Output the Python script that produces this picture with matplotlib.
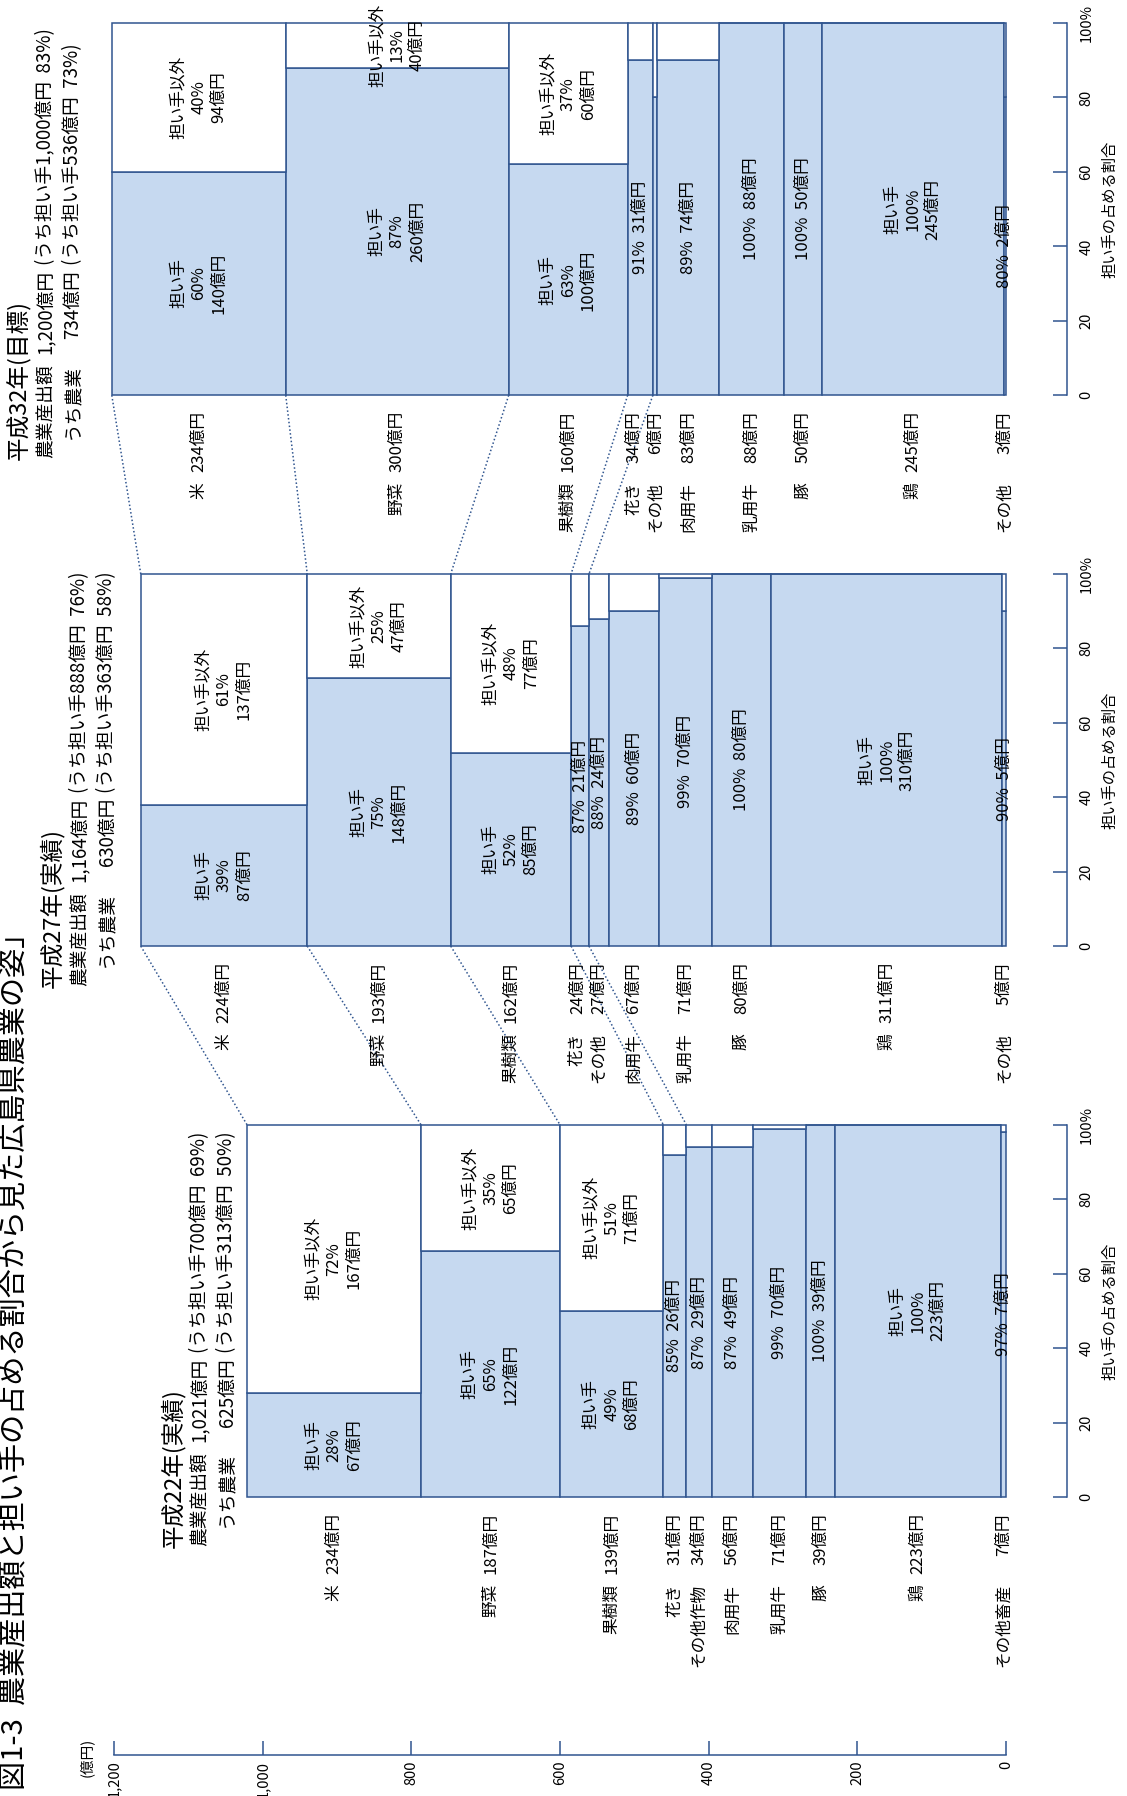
import numpy as np
import matplotlib
matplotlib.use('Agg')
import matplotlib.pyplot as plt

plt.rcParams['font.family'] = ['Noto Sans CJK JP', 'DejaVu Sans']

# ---- data ----
title = '図1-3  農業産出額と担い手の占める割合から見た広島県農業の姿」'

# 平成22年 (実績)
cats22 = ['米', '野菜', '果樹類', '花き', 'その他作物', '肉用牛', '乳用牛', '豚', '鶏', 'その他畜産']
val22 = [234, 187, 139, 31, 34, 56, 71, 39, 223, 7]
fill22 = [28, 66, 50, 92, 94, 94, 99, 100, 100, 98]     # drawn height of blue part
pct22 = [28, 65, 49, 85, 87, 87, 99, 100, 100, 97]      # printed share
amt22 = [67, 122, 68, 26, 29, 49, 70, 39, 223, 7]
opct22 = [72, 35, 51]
oamt22 = [167, 65, 71]
head22 = ['平成22年(実績)',
          ('農業産出額', '1,021億円', '(うち担い手700億円  69%)'),
          ('うち農業', '625億円', '(うち担い手313億円  50%)')]

# 平成27年 (実績)
cats27 = ['米', '野菜', '果樹類', '花き', 'その他', '肉用牛', '乳用牛', '豚', '鶏', 'その他']
val27 = [224, 193, 162, 24, 27, 67, 71, 80, 311, 5]
fill27 = [38, 72, 52, 86, 88, 90, 99, 100, 100, 90]
pct27 = [39, 75, 52, 87, 88, 89, 99, 100, 100, 90]
amt27 = [87, 148, 85, 21, 24, 60, 70, 80, 310, 5]
opct27 = [61, 25, 48]
oamt27 = [137, 47, 77]
head27 = ['平成27年(実績)',
          ('農業産出額', '1,164億円', '(うち担い手888億円  76%)'),
          ('うち農業', '630億円', '(うち担い手363億円  58%)')]

# 平成32年 (目標)
cats32 = ['米', '野菜', '果樹類', '花き', 'その他', '肉用牛', '乳用牛', '豚', '鶏', 'その他']
val32 = [234, 300, 160, 34, 6, 83, 88, 50, 245, 3]
fill32 = [60, 88, 62, 90, 80, 90, 100, 100, 100, 80]
pct32 = [60, 87, 63, 91, None, 89, 100, 100, 100, 80]
amt32 = [140, 260, 100, 31, None, 74, 88, 50, 245, 2]
opct32 = [40, 13, 37]
oamt32 = [94, 40, 60]
head32 = ['平成32年(目標)',
          ('農業産出額', '1,200億円', '(うち担い手1,000億円  83%)'),
          ('うち農業', '734億円', '(うち担い手536億円  73%)')]

oku_ticks = [1200, 1000, 800, 600, 400, 200, 0]
oku_labels = ['1,200', '1,000', '800', '600', '400', '200', '0']
pct_ticks = [0, 20, 40, 60, 80, 100]
pct_labels = ['0', '20', '40', '60', '80', '100%']

panels = [
    (cats22, val22, fill22, pct22, amt22, opct22, oamt22, head22),
    (cats27, val27, fill27, pct27, amt27, opct27, oamt27, head27),
    (cats32, val32, fill32, pct32, amt32, opct32, oamt32, head32),
]

# ---- layout ----
W, H = 1127, 1796
blue = '#c6d9f0'
edge = '#30558f'
gap = 148            # panel spacing in % units
pxu = 1474 / 396     # pixels per % unit

fig = plt.figure(figsize=(W / 100, H / 100), dpi=100)
fig.patch.set_facecolor('white')

ax = fig.add_axes([114 / W, 1 - 1497 / H, 892 / W, 1474 / H])
ax.set_xlim(1200, 0)
ax.set_ylim(0, 396)
ax.patch.set_alpha(0)
for s in ['top', 'left', 'right']:
    ax.spines[s].set_visible(False)
ax.spines['bottom'].set_position(('outward', 258 * 0.72))
ax.spines['bottom'].set_color(edge)
ax.spines['bottom'].set_linewidth(1.1)
ax.set_yticks([])
ax.set_xticks(oku_ticks)
ax.set_xticklabels(oku_labels, rotation=90)
ax.tick_params(axis='x', direction='in', length=10, width=1.1, color=edge,
               labelsize=10.5, pad=4)

starts_all = []
for p, (cats, vals, fill, pct, amt, opct, oamt, head) in enumerate(panels):
    base = p * gap
    vals = np.array(vals)
    fill = np.array(fill)
    total = vals.sum()
    starts = total - np.cumsum(vals)
    starts_all.append((starts, vals, base))

    ax.bar(starts, fill, width=vals, bottom=base, align='edge', color=blue,
           edgecolor=edge, linewidth=1.1, clip_on=False)
    ax.bar(starts, 100 - fill, width=vals, bottom=base + fill, align='edge',
           color='white', edgecolor=edge, linewidth=1.1, clip_on=False)

    centers = starts + vals / 2
    for i in range(len(vals)):
        if pct[i] is None:
            continue
        c = centers[i]
        if i < 3:
            ax.text(c, base + fill[i] / 2, f'担い手\n{pct[i]}%\n{amt[i]}億円',
                    rotation=90, ha='center', va='center', fontsize=12,
                    linespacing=1.25, multialignment='center')
            ax.text(c, base + fill[i] + (100 - fill[i]) / 2,
                    f'担い手以外\n{opct[i]}%\n{oamt[i]}億円',
                    rotation=90, ha='center', va='center', fontsize=12,
                    linespacing=1.25, multialignment='center', clip_on=False)
        elif cats[i] == '鶏':
            ax.text(c, base + fill[i] / 2, f'担い手\n{pct[i]}%\n{amt[i]}億円',
                    rotation=90, ha='center', va='center', fontsize=12,
                    linespacing=1.25, multialignment='center')
        else:
            ax.text(c, base + fill[i] / 2, f'{pct[i]}%  {amt[i]}億円',
                    rotation=90, ha='center', va='center', fontsize=12)

    # category labels under each panel (keep neighbours apart)
    lab_x = centers.copy()
    for i in range(len(lab_x) - 1):
        if lab_x[i] - lab_x[i + 1] < 29:
            lab_x[i] = lab_x[i + 1] + 29
    for i in range(len(vals)):
        ax.text(lab_x[i], base - 16 / pxu, f'{vals[i]}億円', rotation=90,
                rotation_mode='anchor', ha='right', va='center', fontsize=12,
                clip_on=False)
        ax.text(lab_x[i], base - 87 / pxu, cats[i], rotation=90,
                rotation_mode='anchor', ha='right', va='center', fontsize=12,
                clip_on=False)

# dotted connectors between panels
for p in range(2):
    s_lo, v_lo, b_lo = starts_all[p]
    s_up, v_up, b_up = starts_all[p + 1]
    for k in range(5):
        ax.plot([s_up[k] + v_up[k], s_lo[k] + v_lo[k]], [b_up, b_lo + 100],
                linestyle=(0, (1, 1.5)), color=edge, linewidth=1.1, clip_on=False)

# share axes on the right of each panel
for p in range(3):
    pb = 1497 - p * gap * pxu
    axr = fig.add_axes([1017 / W, 1 - pb / H, 50 / W, 100 * pxu / H])
    axr.set_ylim(0, 100)
    axr.patch.set_alpha(0)
    axr.set_xticks([])
    for s in ['top', 'left', 'bottom']:
        axr.spines[s].set_visible(False)
    axr.spines['right'].set_color(edge)
    axr.spines['right'].set_linewidth(1.1)
    axr.yaxis.tick_right()
    axr.set_yticks(pct_ticks)
    axr.set_yticklabels(pct_labels, rotation=90, va='center')
    axr.tick_params(axis='y', direction='in', length=10, width=1.1, color=edge,
                    labelsize=10.5, pad=9)
    axr.yaxis.set_label_position('right')
    axr.set_ylabel('担い手の占める割合', rotation=90, fontsize=11, labelpad=6)

# headers (px positions: line x, start y)
head_pos = [([173, 200, 227], 1548), ([52, 80, 107], 988), ([19, 46, 73], 460)]
for (cats, vals, fill, pct, amt, opct, oamt, head), (xs, y0) in zip(panels, head_pos):
    fig.text(xs[0] / W, 1 - y0 / H, head[0], rotation=90, rotation_mode='anchor',
             ha='left', va='center', fontsize=17)
    for row, x in zip(head[1:], xs[1:]):
        fig.text(x / W, 1 - (y0 - 96) / H, row[0], rotation=90,
                 rotation_mode='anchor', ha='right', va='center', fontsize=13.5)
        fig.text(x / W, 1 - (y0 - 190) / H, row[1], rotation=90,
                 rotation_mode='anchor', ha='right', va='center', fontsize=13.5)
        fig.text(x / W, 1 - (y0 - 195) / H, row[2], rotation=90,
                 rotation_mode='anchor', ha='left', va='center', fontsize=13.5)

fig.text(86 / W, 1 - 1757 / H, '(億円)', rotation=90, ha='center', va='center',
         fontsize=10.5)
fig.text(15 / W, 1 - 1790 / H, title, rotation=90, rotation_mode='anchor',
         ha='left', va='center', fontsize=21)

fig.savefig('out.png', dpi=100)
